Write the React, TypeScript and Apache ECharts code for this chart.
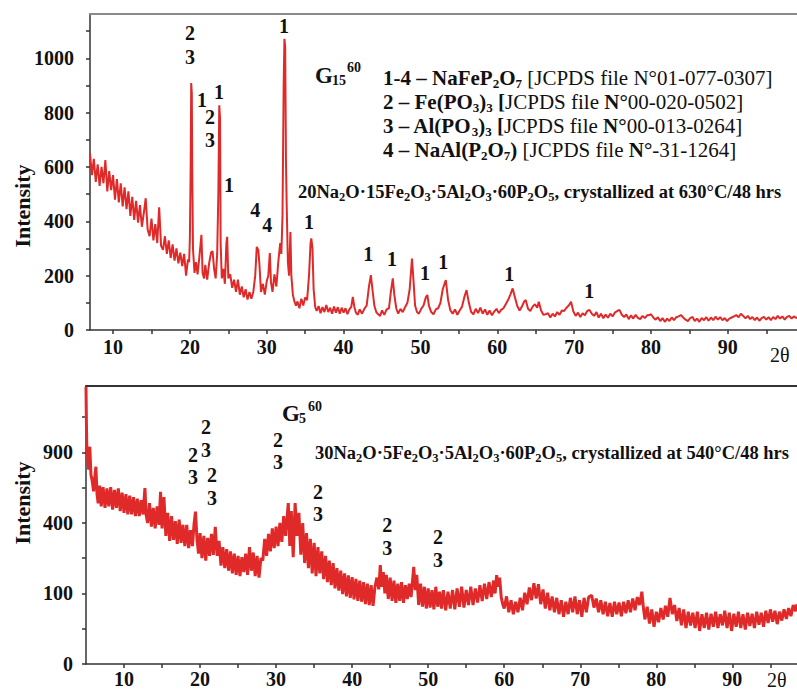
import React, { useEffect, useRef } from "react";
import * as echarts from "echarts";

const FONT = '"Liberation Serif", "Times New Roman", serif';
const RED = "#e02a2a";
const INK = "#111111";

// ---------- Top pattern (G15^60), 2θ vs intensity ----------
const topTraceA: [number, number][] = [
  [7.0, 650], [7.25, 570], [7.5, 630], [7.75, 545], [8.0, 610], [8.25, 530], [8.5, 600], [8.75, 540],
  [9.0, 625], [9.25, 510], [9.5, 585], [9.75, 515], [10.0, 570], [10.25, 480], [10.5, 555], [10.75, 470],
  [11.0, 540], [11.25, 455], [11.5, 525], [11.75, 445], [12.0, 510], [12.25, 420], [12.5, 490], [12.75, 405],
  [13.0, 475], [13.25, 395], [13.5, 460], [13.75, 380], [14.0, 430], [14.25, 485], [14.5, 370], [14.75, 345],
  [15.0, 410], [15.25, 330], [15.5, 390], [15.75, 320], [16.0, 452], [16.25, 310], [16.5, 295], [16.75, 345],
  [17.0, 280], [17.25, 330], [17.5, 265], [17.75, 315], [18.0, 255], [18.25, 300], [18.5, 245], [18.75, 285],
  [19.0, 235], [19.25, 280], [19.5, 200], [19.75, 260], [19.9, 250], [20.0, 340], [20.1, 600], [20.17, 909],
  [20.25, 870], [20.3, 595], [20.4, 300], [20.6, 210], [20.8, 250], [21.0, 205], [21.25, 275], [21.5, 350],
  [21.65, 210], [21.85, 190], [22.0, 240], [22.25, 185], [22.5, 245], [22.75, 285], [22.95, 290], [23.15, 225],
  [23.35, 190], [23.55, 280], [23.7, 500], [23.82, 827], [23.92, 780], [24.0, 320], [24.15, 190], [24.35, 225],
  [24.55, 170], [24.75, 320], [24.85, 343], [25.0, 190], [25.25, 205], [25.5, 155], [25.75, 185], [26.0, 140],
  [26.25, 185], [26.5, 130], [26.75, 160], [27.0, 120], [27.25, 150], [27.5, 112], [27.75, 140], [28.0, 115],
  [28.25, 140], [28.5, 200], [28.7, 306], [28.9, 295], [29.05, 240], [29.25, 140], [29.5, 170], [29.75, 130],
  [30.0, 180], [30.2, 200], [30.4, 283], [30.55, 175], [30.75, 140], [31.0, 205], [31.25, 160], [31.5, 250],
  [31.75, 320], [31.9, 280], [32.05, 420], [32.2, 900], [32.3, 1072], [32.4, 1040], [32.5, 619], [32.6, 450],
  [32.75, 250], [32.9, 200],
];
const topTraceB: [number, number][] = [
  [33.08, 361], [33.2, 200], [33.4, 130], [33.6, 105], [33.8, 90], [34.0, 105], [34.25, 80], [34.5, 115],
  [34.75, 90], [35.0, 120], [35.25, 110], [35.5, 200], [35.7, 320], [35.8, 337], [35.95, 300], [36.1, 150],
  [36.3, 85], [36.5, 70], [36.75, 88], [37.0, 62], [37.25, 84], [37.5, 66], [37.75, 92], [38.0, 66],
  [38.25, 82], [38.5, 60], [38.75, 86], [39.0, 64], [39.25, 84], [39.5, 60], [39.75, 82], [40.0, 64],
  [40.25, 80], [40.5, 58], [40.75, 76], [41.0, 85], [41.2, 122], [41.4, 85], [41.6, 64], [41.85, 56],
  [42.1, 76], [42.4, 60], [42.7, 78], [43.0, 90], [43.3, 160], [43.55, 202], [43.75, 150], [44.0, 90],
  [44.25, 66], [44.5, 58], [44.75, 52], [45.0, 72], [45.3, 56], [45.6, 76], [45.9, 80], [46.15, 140],
  [46.4, 190], [46.6, 130], [46.85, 80], [47.1, 60], [47.4, 78], [47.7, 66], [48.0, 84], [48.3, 100],
  [48.6, 150], [48.9, 263], [49.1, 180], [49.3, 90], [49.55, 66], [49.8, 60], [50.1, 78], [50.4, 90],
  [50.7, 120], [50.9, 129], [51.1, 90], [51.4, 66], [51.7, 58], [52.0, 76], [52.3, 80], [52.6, 100],
  [52.9, 150], [53.3, 184], [53.6, 110], [53.9, 72], [54.2, 60], [54.5, 76], [54.8, 56], [55.1, 72],
  [55.4, 85], [55.7, 120], [56.0, 147], [56.3, 100], [56.6, 66], [56.9, 58], [57.2, 78], [57.5, 62],
  [57.8, 82], [58.1, 60], [58.4, 76], [58.7, 56], [59.0, 72], [59.3, 54], [59.6, 68], [59.9, 78],
];
const topTraceC: [number, number][] = [
  [60.2, 62], [60.5, 74], [60.8, 80], [61.1, 95], [61.4, 110], [61.7, 130], [62.0, 153], [62.3, 120],
  [62.6, 88], [62.9, 72], [63.2, 86], [63.5, 105], [63.7, 110], [64.0, 78], [64.3, 70], [64.6, 86],
  [64.9, 95], [65.2, 82], [65.4, 104], [65.7, 72], [66.0, 56], [66.3, 58], [66.6, 62], [66.9, 46],
  [67.2, 60], [67.5, 50], [67.8, 66], [68.1, 56], [68.4, 72], [68.7, 70], [69.0, 82], [69.3, 90],
  [69.6, 104], [69.9, 68], [70.2, 52], [70.5, 64], [70.8, 48], [71.1, 62], [71.4, 54], [71.7, 70],
  [72.0, 74], [72.3, 60], [72.6, 52], [72.9, 66], [73.2, 46], [73.5, 60], [73.8, 43], [74.1, 57],
  [74.4, 45], [74.7, 60], [75.0, 50], [75.3, 64], [75.6, 70], [75.9, 74], [76.2, 56], [76.5, 48],
  [76.8, 57], [77.1, 40], [77.4, 54], [77.7, 42], [78.0, 56], [78.3, 45], [78.6, 40], [78.9, 52],
  [79.2, 44], [79.5, 54], [79.8, 55], [80.0, 58], [80.3, 46], [80.6, 38], [80.9, 47], [81.2, 33],
  [81.5, 44], [81.8, 30], [82.1, 42], [82.4, 33], [82.7, 46], [83.0, 36], [83.3, 47], [83.6, 50],
  [83.9, 55], [84.2, 46], [84.5, 38], [84.8, 33], [85.1, 44], [85.4, 48], [85.7, 33], [86.0, 42],
  [86.3, 30], [86.6, 44], [86.9, 36], [87.2, 47], [87.5, 34], [87.8, 46], [88.1, 36], [88.4, 49],
  [88.7, 38], [89.0, 47], [89.3, 36], [89.6, 44], [89.9, 33], [90.2, 42], [90.5, 46], [90.8, 50],
  [91.1, 55], [91.4, 47], [91.7, 60], [92.0, 52], [92.3, 43], [92.6, 52], [92.9, 40], [93.2, 48],
  [93.5, 36], [93.8, 46], [94.1, 34], [94.4, 44], [94.7, 48], [95.0, 38], [95.3, 47], [95.6, 36],
  [95.9, 48], [96.2, 40], [96.5, 52], [96.8, 42], [97.1, 50], [97.4, 38], [97.7, 48], [98.0, 52],
  [98.3, 42], [98.6, 50], [98.9, 44], [99.2, 50],
];
// peak labels: [2θ, intensity position, phase number]
const topPeakLabels: [number, number, string][] = [
  [20.02, 1093, "2"], [20.02, 1005, "3"], [21.58, 847, "1"], [23.8, 876, "1"], [22.6, 784, "2"],
  [22.6, 699, "3"], [25.1, 534, "1"], [28.5, 442, "4"], [30.05, 386, "4"], [32.26, 1119, "1"],
  [35.5, 397, "1"], [43.2, 280, "1"], [46.3, 261, "1"], [50.6, 210, "1"], [52.96, 250, "1"],
  [61.56, 206, "1"], [71.97, 144, "1"],
];
const topXTicks = [10, 15, 20, 25, 30, 35, 40, 45, 50, 55, 60, 65, 70, 75, 80, 85, 90, 95];
const topXLabels = [10, 20, 30, 40, 50, 60, 70, 80, 90];
const topYTicks = [0, 100, 200, 300, 400, 500, 600, 700, 800, 900, 1000, 1100];
const topYLabels = [0, 200, 400, 600, 800, 1000];

// ---------- Bottom pattern (G5^60), square-root intensity axis ----------
const botTraceA: [number, number][] = [
  [5.0, 1546], [5.05, 1200], [5.1, 950], [5.2, 880], [5.35, 760], [5.5, 950], [5.65, 720], [5.8, 680],
  [6.0, 600], [6.15, 700], [6.3, 783], [6.45, 580], [6.6, 520], [6.8, 640], [7.0, 500], [7.25, 630],
  [7.5, 490], [7.75, 620], [8.0, 500], [8.25, 630], [8.5, 480], [8.75, 610], [9.0, 490], [9.25, 620],
  [9.5, 470], [9.75, 590], [10.0, 460], [10.25, 580], [10.5, 450], [10.75, 570], [11.0, 450], [11.25, 560],
  [11.5, 440], [11.75, 550], [12.0, 440], [12.25, 540], [12.5, 450], [12.75, 623], [12.9, 450], [13.1, 400],
  [13.35, 520], [13.6, 380], [13.85, 490], [14.1, 370], [14.35, 500], [14.6, 390], [14.8, 597], [15.0, 370],
  [15.25, 560], [15.5, 330], [15.75, 460], [16.0, 305], [16.25, 440], [16.5, 310], [16.75, 410], [17.0, 290],
  [17.25, 420], [17.5, 295], [17.75, 390], [18.0, 280], [18.25, 390], [18.5, 270], [18.75, 360], [19.0, 280],
  [19.2, 390], [19.4, 467], [19.6, 310], [19.8, 245], [20.0, 345], [20.25, 225], [20.5, 330], [20.75, 215],
  [21.0, 320], [21.25, 235], [21.5, 340], [21.75, 240], [22.0, 379], [22.25, 235], [22.5, 305], [22.75, 195],
  [23.0, 275], [23.25, 185], [23.5, 265], [23.75, 175], [24.0, 255], [24.25, 165], [24.5, 245], [24.75, 160],
  [25.0, 235], [25.25, 155], [25.5, 230], [25.75, 170], [26.0, 245], [26.25, 160], [26.5, 275], [26.75, 175],
  [27.0, 250], [27.25, 155], [27.5, 235], [27.75, 150], [28.0, 225], [28.25, 215], [28.5, 315], [28.75, 235],
  [29.0, 340], [29.25, 255], [29.5, 370], [29.75, 270], [30.0, 380], [30.25, 280], [30.5, 400], [30.75, 300],
  [31.0, 440], [31.25, 330], [31.6, 521], [31.8, 280], [32.0, 470], [32.25, 230], [32.5, 521], [32.75, 330],
  [33.0, 460], [33.25, 240], [33.5, 400], [33.75, 205], [34.0, 345], [34.25, 185], [34.5, 315], [34.75, 165],
];
const botTraceB: [number, number][] = [
  [35.0, 295], [35.25, 155], [35.5, 275], [35.75, 165], [36.0, 255], [36.25, 145], [36.5, 235], [36.75, 135],
  [37.0, 215], [37.25, 125], [37.5, 205], [37.75, 115], [38.0, 185], [38.25, 108], [38.5, 175], [38.75, 98],
  [39.0, 165], [39.25, 92], [39.5, 158], [39.75, 88], [40.0, 152], [40.25, 84], [40.5, 146], [40.75, 80],
  [41.0, 140], [41.25, 78], [41.5, 135], [41.75, 72], [42.0, 130], [42.25, 70], [42.5, 125], [42.75, 68],
  [43.0, 120], [43.25, 150], [43.5, 112], [43.7, 197], [43.9, 120], [44.1, 170], [44.3, 100], [44.5, 160],
  [44.75, 85], [45.0, 150], [45.25, 80], [45.5, 140], [45.75, 75], [46.0, 130], [46.25, 80], [46.5, 135],
  [46.75, 75], [47.0, 125], [47.25, 85], [47.5, 130], [47.75, 90], [48.1, 190], [48.3, 110], [48.5, 160],
  [48.75, 70], [49.0, 130], [49.25, 66], [49.5, 120], [49.75, 62], [50.0, 115], [50.25, 64], [50.5, 110],
  [50.75, 60], [51.0, 120], [51.25, 66], [51.5, 105], [51.75, 62], [52.0, 110], [52.3, 58], [52.6, 105],
  [52.9, 62], [53.2, 110], [53.5, 60], [53.8, 115], [54.1, 66], [54.4, 120], [54.7, 64], [55.0, 110],
  [55.3, 70], [55.6, 120], [55.9, 70], [56.2, 115], [56.5, 76], [56.8, 125], [57.1, 80], [57.4, 130],
  [57.7, 85], [58.0, 135], [58.3, 90], [58.6, 140], [58.8, 100], [59.0, 159], [59.2, 120], [59.4, 150],
  [59.6, 90], [59.8, 72],
];
const botTraceC: [number, number][] = [
  [60.0, 62], [60.3, 92], [60.6, 54], [60.9, 82], [61.2, 50], [61.5, 78], [61.8, 54], [62.1, 88],
  [62.4, 58], [62.7, 102], [63.0, 72], [63.3, 118], [63.6, 82], [63.9, 131], [64.2, 86], [64.5, 128],
  [64.8, 72], [65.1, 112], [65.4, 62], [65.7, 102], [66.0, 58], [66.3, 92], [66.6, 54], [66.9, 88],
  [67.2, 50], [67.5, 82], [67.8, 45], [68.1, 78], [68.4, 50], [68.7, 88], [69.0, 54], [69.3, 92],
  [69.6, 50], [69.9, 82], [70.2, 45], [70.5, 88], [70.8, 54], [71.1, 90], [71.5, 95], [71.8, 64],
  [72.1, 86], [72.4, 54], [72.7, 82], [73.0, 50], [73.3, 78], [73.6, 46], [73.9, 75], [74.2, 45],
  [74.5, 78], [74.8, 50], [75.1, 76], [75.4, 46], [75.7, 78], [76.0, 52], [76.3, 82], [76.6, 54],
  [76.9, 86], [77.2, 58], [77.5, 90], [77.8, 70], [78.1, 105], [78.3, 64], [78.5, 40], [78.8, 66],
  [79.1, 33], [79.4, 60], [79.7, 28], [80.0, 55], [80.3, 35], [80.6, 63], [80.9, 40], [81.2, 68],
  [81.5, 45], [81.8, 88], [82.1, 50], [82.4, 70], [82.7, 37], [83.0, 63], [83.3, 30], [83.6, 60],
  [83.9, 26], [84.2, 55], [84.5, 30], [84.8, 53], [85.1, 26], [85.4, 55], [85.7, 22], [86.0, 50],
  [86.3, 26], [86.6, 53], [86.9, 24], [87.2, 51], [87.5, 28], [87.8, 55], [88.1, 26], [88.4, 50],
  [88.7, 30], [89.0, 57], [89.3, 26], [89.6, 53], [89.9, 22], [90.2, 51], [90.5, 28], [90.8, 55],
  [91.1, 26], [91.4, 50], [91.7, 24], [92.0, 53], [92.3, 29], [92.6, 51], [92.9, 26], [93.2, 55],
  [93.5, 31], [93.8, 53], [94.1, 28], [94.4, 57], [94.7, 34], [95.0, 60], [95.3, 36], [95.6, 57],
  [95.9, 32], [96.2, 55], [96.5, 38], [96.8, 60], [97.1, 41], [97.4, 63], [97.7, 46], [98.0, 70],
  [98.3, 56], [98.5, 72],
];
const botPeakLabels: [number, number, string][] = [
  [19.08, 879, "2"], [19.08, 703, "3"], [20.79, 1129, "2"], [20.79, 921, "3"], [21.58, 718, "2"],
  [21.58, 555, "3"], [30.26, 1009, "2"], [30.26, 821, "3"], [35.5, 595, "2"], [35.5, 453, "3"],
  [44.6, 388, "2"], [44.6, 271, "3"], [51.3, 324, "2"], [51.3, 218, "3"],
];
const botXTicks = [10, 15, 20, 25, 30, 35, 40, 45, 50, 55, 60, 65, 70, 75, 80, 85, 90, 95];
const botXLabels = [10, 20, 30, 40, 50, 60, 70, 80, 90];
const botYTickIntensities = [0, 25, 100, 225, 400, 625, 900, 1225];
const botYLabelIntensities = [0, 100, 400, 900];

const labelFont = { fontFamily: FONT, fontWeight: "bold" as const, fontSize: 20, color: INK };

function xAxes(gridIndex: number, min: number, max: number, ticks: number[], labels: number[], margin: number, borderColor: string) {
  return [
    {
      type: "value", gridIndex, min, max, position: "bottom",
      axisLine: { show: true, onZero: false, lineStyle: { color: "#333", width: 1.5 } },
      axisTick: { show: true, customValues: ticks, length: 4, lineStyle: { color: "#333", width: 1.5 } },
      axisLabel: { show: true, customValues: labels, margin, ...labelFont, formatter: (v: number) => String(v) },
      splitLine: { show: false },
    },
    {
      type: "value", gridIndex, min, max, position: "top",
      axisLine: { show: true, onZero: false, lineStyle: { color: borderColor, width: 2 } },
      axisTick: { show: false }, axisLabel: { show: false }, splitLine: { show: false },
    },
  ];
}

const richBase = { fontFamily: FONT, fill: INK };
const legendRich = {
  b: { ...richBase, fontSize: 21, fontWeight: "bold", lineHeight: 24 },
  r: { ...richBase, fontSize: 21, fontWeight: "normal", lineHeight: 24 },
  s: { ...richBase, fontSize: 13, fontWeight: "bold", lineHeight: 10, verticalAlign: "bottom" },
};
const compRich = {
  b: { ...richBase, fontSize: 18.5, fontWeight: "bold", lineHeight: 22 },
  s: { ...richBase, fontSize: 12.5, fontWeight: "bold", lineHeight: 9, verticalAlign: "bottom" },
};

function txt(x: number, y: number, text: string, font: string, extra: any = {}) {
  return {
    type: "text", x, y, silent: true, ...extra,
    style: { text, font, fill: INK, align: "left", verticalAlign: "middle", ...(extra.style || {}) },
  };
}
function rtxt(x: number, y: number, text: string, rich: any) {
  return {
    type: "text", x, y, silent: true,
    style: { text, rich, align: "left", verticalAlign: "middle", fill: INK },
  };
}

const peakLabel = {
  show: true, position: "inside", formatter: (p: any) => p.value[2], ...labelFont,
  textBorderWidth: 0, textShadowBlur: 0, opacity: 1,
};

export default function App() {
  const ref = useRef<HTMLDivElement>(null);
  useEffect(() => {
    if (!ref.current) return;
    const chart = echarts.init(ref.current, null, { renderer: "svg" });
    const topData = [...topTraceA, ...topTraceB, ...topTraceC];
    const botData = [...botTraceA, ...botTraceB, ...botTraceC].map(([x, v]) => [x, Math.sqrt(v)]);
    const option: any = {
      animation: false,
      backgroundColor: "#ffffff",
      grid: [
        { left: 90, top: 14, width: 707, height: 316, containLabel: false, outerBoundsMode: "none" },
        { left: 86, top: 386, width: 711, height: 278, containLabel: false, outerBoundsMode: "none" },
      ],
      xAxis: [
        ...xAxes(0, 7, 99, topXTicks, topXLabels, 7, "#8a8a8a"),
        ...xAxes(1, 5, 98.5, botXTicks, botXLabels, 5, "#333"),
      ],
      yAxis: [
        {
          type: "value", gridIndex: 0, min: 0, max: 1163,
          axisLine: { show: true, onZero: false, lineStyle: { color: "#333", width: 1.5 } },
          axisTick: { show: true, customValues: topYTicks, length: 4, lineStyle: { color: "#333", width: 1.5 } },
          axisLabel: { show: true, customValues: topYLabels, margin: 16, ...labelFont, formatter: (v: number) => String(v) },
          splitLine: { show: false },
        },
        {
          type: "value", gridIndex: 1, min: 0, max: 39.43,
          axisLine: { show: true, onZero: false, lineStyle: { color: "#333", width: 1.5 } },
          axisTick: { show: true, customValues: botYTickIntensities.map(Math.sqrt), length: 4, lineStyle: { color: "#333", width: 1.5 } },
          axisLabel: {
            show: true, customValues: botYLabelIntensities.map(Math.sqrt), margin: 13, ...labelFont,
            formatter: (v: number) => String(Math.round(v * v)),
          },
          splitLine: { show: false },
        },
      ],
      series: [
        {
          type: "line", xAxisIndex: 0, yAxisIndex: 0, data: topData, showSymbol: false, symbol: "none",
          lineStyle: { color: RED, width: 2 }, silent: true,
        },
        {
          type: "line", xAxisIndex: 2, yAxisIndex: 1, data: botData, showSymbol: false, symbol: "none",
          lineStyle: { color: RED, width: 3 }, silent: true,
        },
        {
          type: "scatter", xAxisIndex: 0, yAxisIndex: 0, symbolSize: 1, silent: true,
          itemStyle: { color: "rgba(0,0,0,0)", opacity: 1 },
          data: topPeakLabels.map(([x, y, t]) => [x, y, t]),
          label: peakLabel,
        },
        {
          type: "scatter", xAxisIndex: 2, yAxisIndex: 1, symbolSize: 1, silent: true,
          itemStyle: { color: "rgba(0,0,0,0)", opacity: 1 },
          data: botPeakLabels.map(([x, y, t]) => [x, Math.sqrt(y), t]),
          label: peakLabel,
        },
      ],
      graphic: [
        txt(22, 206, "Intensity", `bold 22px ${FONT}`, { rotation: Math.PI / 2, style: { align: "center" } }),
        txt(22, 503, "Intensity", `bold 22px ${FONT}`, { rotation: Math.PI / 2, style: { align: "center" } }),
        txt(770, 355, "2θ", `20px ${FONT}`),
        txt(767, 680, "2θ", `20px ${FONT}`),
        txt(315, 75, "G", `bold 23px ${FONT}`),
        txt(332, 80, "15", `bold 14px ${FONT}`),
        txt(347, 67, "60", `bold 14px ${FONT}`),
        txt(282, 413, "G", `bold 23px ${FONT}`),
        txt(299, 418, "5", `bold 14px ${FONT}`),
        txt(308, 406, "60", `bold 14px ${FONT}`),
        rtxt(383, 78, "{b|1-4 – NaFeP}{s|2}{b|O}{s|7}{r| [JCPDS file N°01-077-0307]}", legendRich),
        rtxt(383, 102, "{b|2 – Fe(PO}{s|3}{b|)}{s|3}{b| [}{r|JCPDS file }{b|N°}{r|00-020-0502]}", legendRich),
        rtxt(383, 126, "{b|3 – Al(PO}{s|3}{b|)}{s|3}{b| [}{r|JCPDS file }{b|N°}{r|00-013-0264]}", legendRich),
        rtxt(383, 150, "{b|4 – NaAl(P}{s|2}{b|O}{s|7}{b|)}{r| [JCPDS file }{b|N°}{r|-31-1264]}", legendRich),
        rtxt(298, 192, "{b|20Na}{s|2}{b|O·15Fe}{s|2}{b|O}{s|3}{b|·5Al}{s|2}{b|O}{s|3}{b|·60P}{s|2}{b|O}{s|5}{b|, crystallized at 630°C/48 hrs}", compRich),
        rtxt(315, 453, "{b|30Na}{s|2}{b|O·5Fe}{s|2}{b|O}{s|3}{b|·5Al}{s|2}{b|O}{s|3}{b|·60P}{s|2}{b|O}{s|5}{b|, crystallized at 540°C/48 hrs}", compRich),
      ],
    };
    chart.setOption(option);
    return () => chart.dispose();
  }, []);
  return <div ref={ref} style={{ position: "absolute", left: 0, top: 0, width: 797, height: 690 }} />;
}
